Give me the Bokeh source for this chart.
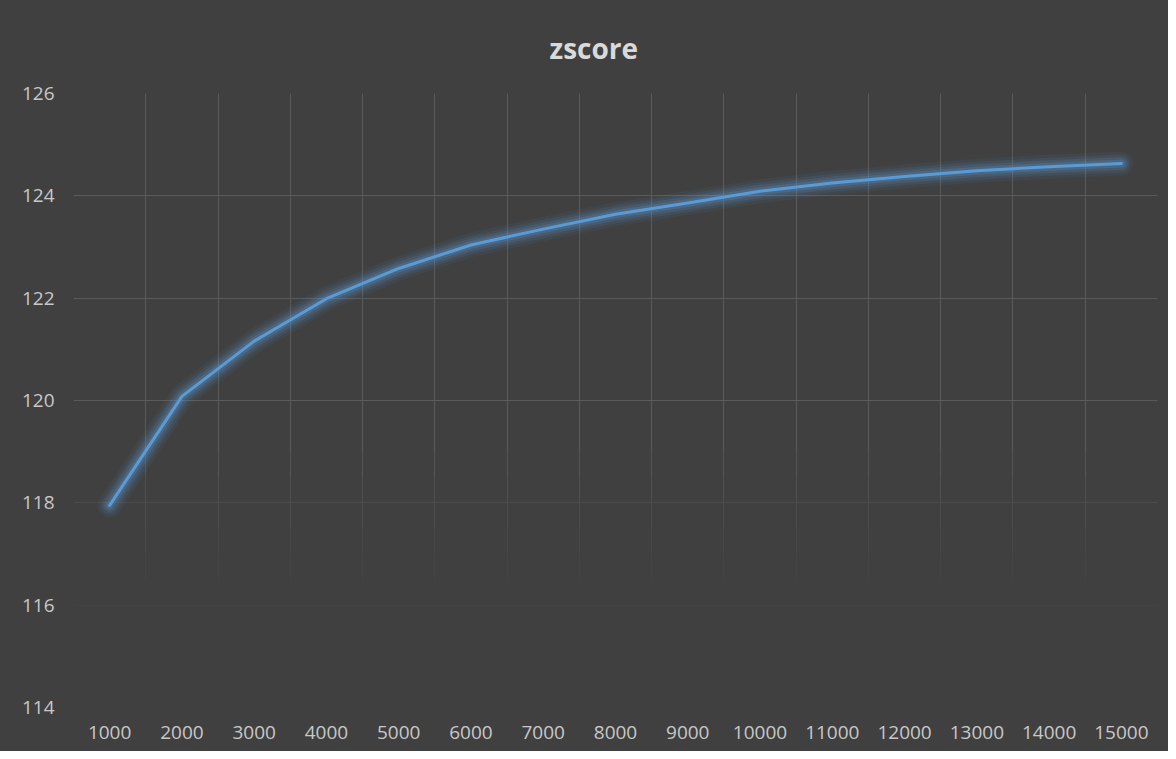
from bokeh.plotting import figure
from bokeh.embed import file_html
from bokeh.resources import INLINE
from bokeh.models import FactorRange, Range1d, FixedTicker, Grid

# ---- data ----
categories = ["1000", "2000", "3000", "4000", "5000", "6000", "7000", "8000",
              "9000", "10000", "11000", "12000", "13000", "14000", "15000"]
zscore = [117.95, 120.08, 121.16, 121.99, 122.58, 123.04, 123.35, 123.64,
          123.86, 124.09, 124.25, 124.38, 124.49, 124.57, 124.63]
y_ticks = [114, 116, 118, 120, 122, 124, 126]
title_text = "zscore"

BG = "#404040"
GRID = "#5a5a5a"
LINE = "#5b9bd5"
FONT = "Open Sans"

p = figure(width=1168, height=751, x_range=FactorRange(*categories),
           y_range=Range1d(114, 126), output_backend="svg",
           toolbar_location=None,
           min_border_left=73, min_border_right=11,
           min_border_top=93, min_border_bottom=44)

p.background_fill_color = BG
p.border_fill_color = BG
p.outline_line_color = None
p.styles = {"background-color": BG}

p.title.text = title_text
p.title.align = "left"
p.title.offset = 476
p.title.text_font = FONT
p.title.text_font_style = "bold"
p.title.text_font_size = "28px"
p.title.text_color = "#d9d9d9"
p.title.standoff = 53

# default grids off; Excel-style gridlines between categories, fading downwards
p.xgrid.grid_line_color = None
p.ygrid.grid_line_color = None

boundaries = list(range(len(categories) + 1))  # category edges (synthetic coords)
x_fade = [(119.0, 126.0, 1.0), (118.5, 119.0, 0.8), (118.0, 118.5, 0.6),
          (117.5, 118.0, 0.45), (117.0, 117.5, 0.3), (116.5, 117.0, 0.17),
          (116.0, 116.5, 0.07)]
for lo, hi, a in x_fade:
    p.add_layout(Grid(dimension=0, ticker=FixedTicker(ticks=boundaries),
                      cross_bounds=(lo, hi), grid_line_color=GRID,
                      grid_line_alpha=a, grid_line_width=1))

y_fade = {120: 1.0, 122: 1.0, 124: 1.0, 126: 1.0, 118: 0.45, 116: 0.12}
for t in y_ticks:
    a = y_fade.get(t, 0.0)
    if a > 0:
        p.add_layout(Grid(dimension=1, ticker=FixedTicker(ticks=[t]),
                          grid_line_color=GRID, grid_line_alpha=a,
                          grid_line_width=1))

# axes
for ax in (p.xaxis[0], p.yaxis[0]):
    ax.axis_line_color = None
    ax.major_tick_line_color = None
    ax.minor_tick_line_color = None
    ax.major_label_text_font = FONT
    ax.major_label_text_font_size = "19px"
    ax.major_label_text_color = "#c8c8c8"
p.yaxis.ticker = FixedTicker(ticks=y_ticks)
p.yaxis.major_label_standoff = 13
p.xaxis.major_label_standoff = 12

# glow
for w, a in [(24, 0.07), (18, 0.1), (13, 0.15), (8, 0.22)]:
    p.line(categories, zscore, line_color=LINE, line_width=w, line_alpha=a,
           line_join="round", line_cap="round")
p.line(categories, zscore, line_color=LINE, line_width=3,
       line_join="round", line_cap="round")

open("out.html", "w").write(file_html(p, INLINE))
